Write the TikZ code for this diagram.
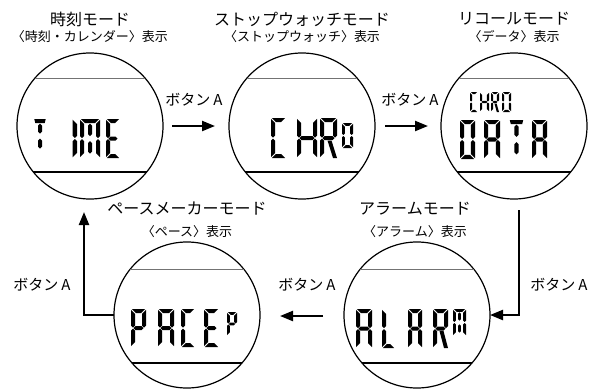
\documentclass[tikz,border=0pt]{standalone}
\usepackage{fontspec}
\setmainfont{Noto Sans CJK JP}
\usetikzlibrary{arrows.meta}

\def\segW{10}\def\segH{30}\def\segT{3.2}\def\segG{0.5}\def\segD{0.8}
\def\sh{(\segT/2)}
\newcommand\hseg[3]{\fill ({#1},{#3}) -- ({#1+\segT/2},{#3-\segT/2}) -- ({#2-\segT/2},{#3-\segT/2}) -- ({#2},{#3}) -- ({#2-\segT/2},{#3+\segT/2}) -- ({#1+\segT/2},{#3+\segT/2}) -- cycle;}
\newcommand\vseg[3]{\fill ({#1},{#2}) -- ({#1+\segT/2},{#2+\segT/2}) -- ({#1+\segT/2},{#3-\segT/2}) -- ({#1},{#3}) -- ({#1-\segT/2},{#3-\segT/2}) -- ({#1-\segT/2},{#2+\segT/2}) -- cycle;}
% outer segments with mitred corners
\newcommand\lcdSa{\fill ({-\sh+\segD},{-\sh}) -- ({\segW+\sh-\segD},{-\sh}) -- ({\segW-\sh-\segD},{\sh}) -- ({\sh+\segD},{\sh}) -- cycle;}
\newcommand\lcdSt{\fill ({-\sh+\segD},{-\sh}) -- ({\segW+\sh-\segD},{-\sh}) -- ({\segW+\sh-\segD-1},{\sh}) -- ({-\sh+\segD+1},{\sh}) -- cycle;}
\newcommand\lcdSd{\fill ({-\sh+\segD},{\segH+\sh}) -- ({\segW+\sh-\segD},{\segH+\sh}) -- ({\segW-\sh-\segD},{\segH-\sh}) -- ({\sh+\segD},{\segH-\sh}) -- cycle;}
\newcommand\lcdSf{\fill ({-\sh},{-\sh+\segD}) -- ({\sh},{\sh+\segD}) -- ({\sh},{\segH/2-\segG-\sh}) -- (0,{\segH/2-\segG}) -- ({-\sh},{\segH/2-\segG-\sh}) -- cycle;}
\newcommand\lcdSe{\fill ({-\sh},{\segH+\sh-\segD}) -- ({\sh},{\segH-\sh-\segD}) -- ({\sh},{\segH/2+\segG+\sh}) -- (0,{\segH/2+\segG}) -- ({-\sh},{\segH/2+\segG+\sh}) -- cycle;}
\newcommand\lcdSb{\fill ({\segW+\sh},{-\sh+\segD}) -- ({\segW-\sh},{\sh+\segD}) -- ({\segW-\sh},{\segH/2-\segG-\sh}) -- ({\segW},{\segH/2-\segG}) -- ({\segW+\sh},{\segH/2-\segG-\sh}) -- cycle;}
\newcommand\lcdSc{\fill ({\segW+\sh},{\segH+\sh-\segD}) -- ({\segW-\sh},{\segH-\sh-\segD}) -- ({\segW-\sh},{\segH/2+\segG+\sh}) -- ({\segW},{\segH/2+\segG}) -- ({\segW+\sh},{\segH/2+\segG+\sh}) -- cycle;}
% inner segments
\newcommand\lcdSg{\hseg{\segG}{\segW-\segG}{\segH/2}}
\newcommand\lcdSh{\vseg{\segW/2}{\segT/2+\segG}{\segH/2-\segT/2-\segG}}
\newcommand\lcdSi{\vseg{\segW/2}{\segH/2+\segT/2+\segG}{\segH-\segT/2-\segG}}
\newcommand\lcdSk{\fill ({\segW/2-\sh/2},{\segH/2+\sh+\segG}) -- ({\segW/2+1.5*\sh},{\segH/2+\sh+\segG}) -- ({\segW+\sh},{\segH+\sh}) -- ({\segW-\sh},{\segH+\sh}) -- cycle;}
% x y W H T segments
\newcommand\lcd[6]{\begin{scope}[shift={(#1,#2)}]\def\segW{#3}\def\segH{#4}\def\segT{#5}\foreach \s in {#6}{\csname lcdS\s\endcsname}\end{scope}}

\begin{document}
\begin{tikzpicture}[x=1pt,y=-1pt,
  disp/.style={circle,draw,line width=1.2pt,minimum size=146pt,inner sep=0pt,outer sep=0pt},
  ttl/.style={font=\fontsize{16}{18}\selectfont,inner sep=0pt},
  subt/.style={font=\fontsize{13}{15}\selectfont,inner sep=0pt},
  lbl/.style={font=\fontsize{15}{17}\selectfont,inner sep=0pt},
  arr/.style={line width=2.2pt,-{Triangle[length=13pt,width=10pt]}},
  topline/.style={line width=1pt,black!55},
  botline/.style={line width=1.1pt,black}]
\useasboundingbox (0,0) rectangle (598,389);

% displays
\node[disp] (time) at (90,126) {};
\node[disp] (chro) at (302,126) {};
\node[disp] (data) at (514,126) {};
\node[disp] (pace) at (187,315) {};
\node[disp] (alarm) at (417,315) {};

\foreach \n in {time,chro,data}{
  \draw[topline] (\n.center) ++(-55,-48) -- ++(110,0);
  \draw[botline] (\n.center) ++(-56.7,46) -- ++(113.4,0);
}
\foreach \n in {pace,alarm}{
  \draw[topline] (\n.center) ++(-56.7,-46) -- ++(113.4,0);
  \draw[botline] (\n.center) ++(-55,48) -- ++(110,0);
}

% titles
\node[ttl] (t1) at (90,19) {時刻モード};
\node[subt] (s1) at (90,37) {〈時刻・カレンダー〉表示};
\node[ttl] (t2) at (302,19) {ストップウォッチモード};
\node[subt] (s2) at (302,37) {〈ストップウォッチ〉表示};
\node[ttl] (t3) at (514,19) {リコールモード};
\node[subt] (s3) at (514,37) {〈データ〉表示};
\node[ttl] (t4) at (187,209) {ペースメーカーモード};
\node[subt] (s4) at (187,232) {〈ペース〉表示};
\node[ttl] (t5) at (415,209) {アラームモード};
\node[subt] (s5) at (415,232) {〈アラーム〉表示};

% LCD text: TIME
\lcd{35.5}{121}{9}{30}{4}{t,h,i}
\lcd{74.8}{121.2}{0}{34.6}{4.6}{f,e}
\lcd{82}{121}{16}{35}{4}{a,b,c,e,f,h,i}
\lcd{108}{121}{10}{35}{4}{a,f,e,d,g}
% CHRO
\lcd{273}{120}{11}{36}{4}{a,f,e,d}
\lcd{299}{120}{16}{36}{4}{f,e,b,c,g}
\lcd{322}{120}{13}{36}{4}{a,b,f,e,g,k}
\lcd{343.4}{124.4}{8.2}{22.2}{2.8}{a,b,c,d,e,f}
% small CHRO + DATA
\lcd{471.1}{93.1}{5.8}{17.8}{2.2}{a,f,e,d}
\lcd{481.1}{93.1}{6.8}{17.8}{2.2}{f,e,b,c,g}
\lcd{492.1}{93.1}{5.8}{17.8}{2.2}{a,b,f,e,g,k}
\lcd{503.1}{93.1}{6.8}{17.8}{2.2}{a,b,c,d,e,f}
\lcd{462.1}{122.1}{10.8}{34.8}{4.2}{a,b,c,d,e,f}
\lcd{486.1}{122.1}{11.8}{34.8}{4.2}{a,b,c,e,f,g}
\lcd{511.1}{122.1}{10.8}{34.8}{4.2}{t,h,i}
\lcd{534.1}{122.1}{10.8}{34.8}{4.2}{a,b,c,e,f,g}
% PACE
\lcd{133}{311}{11}{34}{4}{a,b,f,e,g}
\lcd{160}{311}{12}{34}{4}{a,b,c,e,f,g}
\lcd{183}{311}{10}{34}{4}{a,f,e,d}
\lcd{206}{311}{11}{34}{4}{a,f,e,d,g}
\lcd{228.4}{313.4}{7.2}{21.2}{2.8}{a,b,f,e,g}
% ALARM
\lcd{358}{311}{12}{35}{4}{a,b,c,e,f,g}
\lcd{384}{311}{9}{35}{4}{f,e,d}
\lcd{410}{311}{10}{35}{4}{a,b,c,e,f,g}
\lcd{435}{311}{11}{35}{4}{a,b,f,e,g,k}
\lcd{454.4}{310.4}{10.2}{24.2}{2.8}{a,b,c,e,f,h,i}

% connectors
\coordinate (a1s) at (172,126);
\coordinate (a1e) at (215,126);
\coordinate (a2s) at (385,126);
\coordinate (a2e) at (428,126);
\coordinate (a3s) at (519,210);
\coordinate (a4s) at (323,316);
\coordinate (a4e) at (280,316);
\coordinate (a5e) at (84,212);
\draw[arr] (a1s) -- (a1e);
\draw[arr] (a2s) -- (a2e);
\draw[arr] (a3s) |- (alarm.east);
\draw[arr] (a4s) -- (a4e);
\draw[arr] (pace.west) -| (a5e);

% labels
\node[lbl] (b1) at (194,100) {ボタン\hspace{3pt}A};
\node[lbl] (b2) at (410,100) {ボタン\hspace{3pt}A};
\node[lbl] (b3) at (559,285) {ボタン\hspace{3pt}A};
\node[lbl] (b4) at (307,285) {ボタン\hspace{3pt}A};
\node[lbl] (b5) at (42,285) {ボタン\hspace{3pt}A};
\end{tikzpicture}
\end{document}
